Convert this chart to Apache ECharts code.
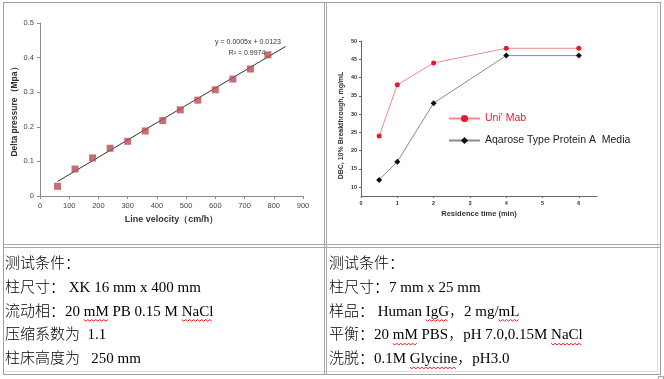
<!DOCTYPE html>
<html>
<head>
<meta charset="utf-8">
<script src="https://cdn.jsdelivr.net/npm/echarts@6/dist/echarts.min.js"></script>
<style>
html,body{margin:0;padding:0;background:#fff;}
#c{width:664px;height:379px;}
</style>
</head>
<body>
<div id="c"></div>
<script>
// ---- Left chart data ----
const velocity = [60, 120, 180, 240, 300, 360, 420, 480, 540, 600, 660, 720, 780];
const pressure = [0.028, 0.078, 0.110, 0.138, 0.158, 0.188, 0.218, 0.249, 0.277, 0.307, 0.338, 0.367, 0.408];
const trendX = [60, 840];
const trendY = [0.042, 0.432];
const equationText = ['y = 0.0005x + 0.0123', 'R² = 0.9974'];

// ---- Right chart data ----
const residence = [0.5, 1, 2, 4, 6];
const uniMab = [24, 38, 44, 48, 48];
const agarose = [12, 17, 33, 46, 46];
const residenceTicks = [0, 1, 2, 3, 4, 5, 6];
const dbcTicks = [10, 15, 20, 25, 30, 35, 40, 45, 50];
const seriesNames = ["Uni' Mab", 'Aqarose Type Protein A  Media'];

// ---- Table text ----
const leftLines = ['测试条件：', '柱尺寸： XK 16 mm x 400 mm', '流动相：20 mM PB 0.15 M NaCl', '压缩系数为  1.1', '柱床高度为   250 mm'];
const rightLines = ['测试条件：', '柱尺寸：7 mm x 25 mm', '样品： Human IgG，2 mg/mL', '平衡：20 mM PBS，pH 7.0,0.15M NaCl', '洗脱：0.1M Glycine，pH3.0'];
// [cell, line index, word] for spell-check squiggles
const squiggles = [[0, 2, 'mM'], [0, 2, 'NaCl'], [1, 2, 'IgG'], [1, 2, 'mL'], [1, 3, 'mM'], [1, 3, 'NaCl'], [1, 4, 'Glycine']];

const pair = (xs, ys) => xs.map((x, i) => [x, ys[i]]);

const textFont = '300 15px "Liberation Serif", "Noto Sans CJK SC"';
const lineY0 = 264, lineStep = 23.8;
const cellX = [5, 329];

const graphics = [];
// table borders
function hline(y, x1, x2, c) { graphics.push({ type: 'line', shape: { x1: x1, y1: y, x2: x2, y2: y }, style: { stroke: c, lineWidth: 1 }, silent: true }); }
function vline(x, y1, y2, c) { graphics.push({ type: 'line', shape: { x1: x, y1: y1, x2: x, y2: y2 }, style: { stroke: c, lineWidth: 1 }, silent: true }); }
hline(2.5, 3, 661, '#a0a0a0');
hline(374.5, 3, 661, '#a0a0a0');
vline(3.5, 2, 375, '#a0a0a0');
vline(660.5, 2, 375, '#a0a0a0');
hline(371.5, 5, 658, '#e2e2e2');
vline(657.5, 4, 372, '#e2e2e2');
vline(324.5, 2, 375, '#a8a8a8');
vline(326.5, 2, 375, '#a8a8a8');
hline(244.5, 3, 661, '#a8a8a8');
hline(247.5, 3, 661, '#a8a8a8');
graphics.push({ type: 'rect', shape: { x: 658.5, y: 376.5, width: 5, height: 5 }, style: { fill: 'none', stroke: '#a0a0a0' }, silent: true });

// cell texts
[leftLines, rightLines].forEach(function (lines, ci) {
  lines.forEach(function (t, li) {
    graphics.push({ type: 'text', x: cellX[ci], y: lineY0 + li * lineStep, style: { text: t, font: textFont, fill: '#000', textAlign: 'left', textVerticalAlign: 'middle' }, silent: true });
  });
});

// squiggles
const mctx = document.createElement('canvas').getContext('2d');
mctx.font = textFont;
squiggles.forEach(function (s) {
  const line = (s[0] === 0 ? leftLines : rightLines)[s[1]];
  const idx = line.indexOf(s[2]);
  const x1 = cellX[s[0]] + mctx.measureText(line.slice(0, idx)).width;
  const x2 = x1 + mctx.measureText(s[2]).width;
  const yb = lineY0 + s[1] * lineStep + 8;
  const pts = [];
  let k = 0;
  for (let x = x1; x <= x2 + 0.01; x += 2) { pts.push([x, yb + (k % 2 ? 1.5 : 0)]); k++; }
  graphics.push({ type: 'polyline', shape: { points: pts }, style: { stroke: '#e02020', lineWidth: 1, fill: null }, silent: true });
});

// equation text
graphics.push({ type: 'text', x: 248, y: 42, style: { text: equationText[0], font: '7px "Liberation Sans"', fill: '#333', textAlign: 'center', textVerticalAlign: 'middle' }, silent: true });
graphics.push({ type: 'text', x: 247, y: 53, style: { text: equationText[1], font: '7px "Liberation Sans"', fill: '#333', textAlign: 'center', textVerticalAlign: 'middle' }, silent: true });

const chart = echarts.init(document.getElementById('c'), null, { renderer: 'canvas' });
chart.setOption({
  animation: false,
  backgroundColor: '#fff',
  textStyle: { fontFamily: '"Liberation Sans", Arial, sans-serif' },
  grid: [
    { left: 40, top: 23, width: 263, height: 173 },
    { left: 361, top: 41, width: 236, height: 155 }
  ],
  xAxis: [
    {
      gridIndex: 0, type: 'value', min: 0, max: 900, interval: 100,
      name: 'Line velocity（cm/h）', nameLocation: 'middle', nameGap: 19,
      nameTextStyle: { fontSize: 9, fontWeight: 'bold', color: '#333' },
      axisLine: { lineStyle: { color: '#8c8c8c' } },
      axisTick: { show: true, length: 3, lineStyle: { color: '#8c8c8c' } },
      axisLabel: { fontSize: 7.5, color: '#444', margin: 6 },
      splitLine: { show: false }
    },
    {
      gridIndex: 1, type: 'value', min: 0, max: 6.5,
      name: 'Residence time (min)', nameLocation: 'middle', nameGap: 14,
      nameTextStyle: { fontSize: 7.5, fontWeight: 'bold', color: '#333' },
      axisLine: { onZero: false, lineStyle: { color: '#666' } },
      axisTick: { show: true, length: 2, lineStyle: { color: '#666' }, customValues: residenceTicks },
      axisLabel: { fontSize: 5.5, fontWeight: 'bold', color: '#333', margin: 4, customValues: residenceTicks },
      splitLine: { show: false }
    }
  ],
  yAxis: [
    {
      gridIndex: 0, type: 'value', min: 0, max: 0.5, interval: 0.1,
      name: 'Delta pressure（Mpa）', nameLocation: 'middle', nameGap: 21, nameRotate: 90,
      nameTextStyle: { fontSize: 8.5, fontWeight: 'bold', color: '#333' },
      axisLine: { show: true, lineStyle: { color: '#8c8c8c' } },
      axisTick: { show: true, length: 3, lineStyle: { color: '#8c8c8c' } },
      axisLabel: { fontSize: 7.5, color: '#444', margin: 6 },
      splitLine: { show: false }
    },
    {
      gridIndex: 1, type: 'value', min: 7.6, max: 50,
      name: 'DBC, 10% Breakthrough, mg/mL', nameLocation: 'middle', nameGap: 16, nameRotate: 90,
      nameTextStyle: { fontSize: 7, fontWeight: 'bold', color: '#333', padding: [0, 0, 0, -14] },
      axisLine: { show: true, onZero: false, lineStyle: { color: '#666' } },
      axisTick: { show: true, length: 2, lineStyle: { color: '#666' }, customValues: dbcTicks },
      axisLabel: { fontSize: 5.5, fontWeight: 'bold', color: '#333', margin: 4, customValues: dbcTicks },
      splitLine: { show: false }
    }
  ],
  legend: {
    left: 448, top: 113, orient: 'vertical', itemGap: 11, padding: 0,
    itemWidth: 31, itemHeight: 9,
    textStyle: { fontSize: 10.5, fontFamily: '"Liberation Sans", Arial, sans-serif' },
    data: [
      { name: seriesNames[0], textStyle: { color: '#e0202e' } },
      { name: seriesNames[1], textStyle: { color: '#222' } }
    ]
  },
  series: [
    {
      type: 'scatter', xAxisIndex: 0, yAxisIndex: 0,
      data: pair(velocity, pressure), symbol: 'rect', symbolSize: 7,
      itemStyle: { color: '#b84a52' }, z: 3
    },
    {
      type: 'line', xAxisIndex: 0, yAxisIndex: 0,
      data: pair(trendX, trendY), showSymbol: false, symbol: 'none',
      lineStyle: { color: '#333', width: 1 }, z: 2
    },
    {
      name: seriesNames[0], type: 'line', xAxisIndex: 1, yAxisIndex: 1,
      data: pair(residence, uniMab), symbol: 'circle', symbolSize: 5,
      itemStyle: { color: '#e8192c' }, lineStyle: { color: '#f08a8e', width: 1 }
    },
    {
      name: seriesNames[1], type: 'line', xAxisIndex: 1, yAxisIndex: 1,
      data: pair(residence, agarose), symbol: 'diamond', symbolSize: 6,
      itemStyle: { color: '#111' }, lineStyle: { color: '#8a8a8a', width: 1 }
    }
  ],
  graphic: graphics
});
</script>
</body>
</html>
